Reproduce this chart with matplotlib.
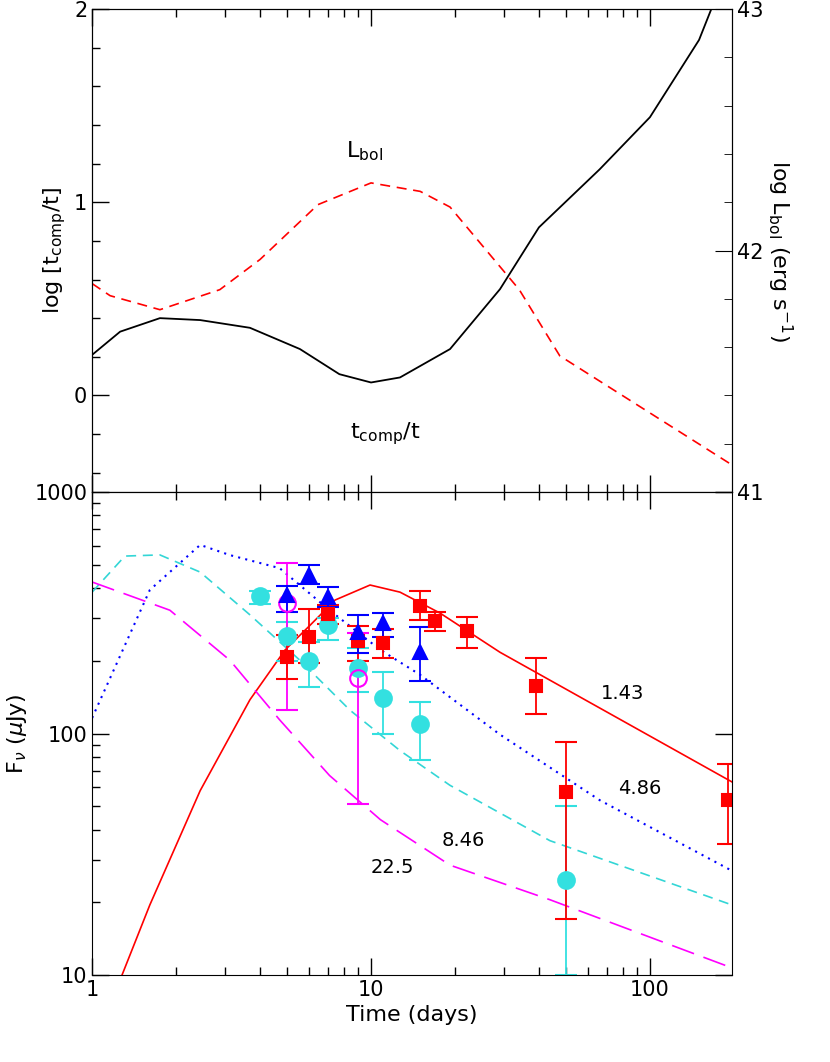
import numpy as np
import matplotlib
matplotlib.use("Agg")
import matplotlib.pyplot as plt
from matplotlib.ticker import MultipleLocator, LogLocator, NullFormatter, FixedLocator, FuncFormatter

# ── Top panel curves ──────────────────────────────────────────────────────────
tc_t = [1.0, 1.26, 1.75, 2.44, 3.68, 5.56, 7.7, 10.0, 12.7, 19.2, 29, 40, 66, 100, 150, 166, 200]
tc_v = [0.21, 0.33, 0.40, 0.39, 0.35, 0.24, 0.11, 0.067, 0.093, 0.24, 0.55, 0.87, 1.17, 1.44, 1.84, 2.0, 2.2]

lb_t = [1.0, 1.16, 1.75, 2.87, 4.0, 6.45, 10.0, 15, 19.2, 34, 47.5, 197]
lb_v = [41.863, 41.813, 41.755, 41.838, 41.963, 42.19, 42.28, 42.245, 42.18, 41.838, 41.564, 41.112]

# ── Bottom panel model curves ────────────────────────────────────────────────
m143_t = [1.28, 1.61, 2.44, 3.68, 4.92, 6.05, 7.43, 9.92, 12.7, 17.7, 29, 197]
m143_f = [10, 19.5, 58, 138, 222, 281, 357, 412, 385, 315, 217, 63]
m486_t = [1.0, 1.61, 2.44, 3.12, 4.7, 7.1, 10.8, 15, 29, 66, 197]
m486_f = [116, 393, 604, 548, 484, 324, 222, 175, 99, 53, 27]
m846_t = [1.0, 1.31, 1.75, 2.44, 3.68, 5.56, 8.4, 12.7, 19.2, 43.8, 197]
m846_f = [385, 543, 549, 466, 310, 201, 125, 85, 61, 36, 19.5]
m225_t = [1.0, 1.9, 3.12, 4.7, 7.1, 10.8, 19.2, 43.8, 197]
m225_f = [424, 324, 201, 114, 67, 44, 28.5, 20.5, 10.7]

# ── Data points (t, flux, lo, hi) ────────────────────────────────────────────
red_t  = [5, 6, 7, 9, 11, 15, 17, 22, 39, 50, 190]
red_f  = [207, 251, 313, 242, 237, 337, 292, 266, 157, 57, 53]
red_lo = [168, 195, 285, 200, 205, 295, 265, 225, 120, 17, 35]
red_hi = [255, 328, 340, 280, 270, 390, 318, 305, 205, 92, 75]

blue_t  = [5, 6, 7, 9, 11, 15]
blue_f  = [375, 453, 367, 263, 287, 217]
blue_lo = [320, 415, 335, 215, 250, 165]
blue_hi = [410, 500, 405, 310, 315, 275]

cyan_t  = [4, 5, 6, 7, 9, 11, 15, 50]
cyan_f  = [371, 253, 200, 281, 187, 140, 110, 24.7]
cyan_lo = [345, 200, 156, 245, 148, 100, 78, 10]
cyan_hi = [390, 290, 240, 300, 225, 180, 135, 50]

mag_t  = [5, 9]
mag_f  = [347, 170]
mag_lo = [125, 51]
mag_hi = [510, 260]

freq_labels = ["1.43", "4.86", "8.46", "22.5"]
freq_lab_t  = [80, 92, 21.5, 11.9]
freq_lab_f  = [146, 59, 36, 28]

fig = plt.figure(figsize=(8.3, 10.62), dpi=100)
L, W, H = 0.111, 0.771, 0.4548
ax1 = fig.add_axes([L, 0.0819 + H, W, H])
ax2 = fig.add_axes([L, 0.0819, W, H])

def style(ax):
    ax.tick_params(which="both", direction="in", top=True, labelsize=15)
    ax.tick_params(which="major", length=12, width=1)
    ax.tick_params(which="minor", length=6, width=1)

# top
ax1.plot(tc_t, tc_v, color="black", lw=1.3)
ax1.set_xscale("log")
ax1.set_xlim(1, 197)
ax1.set_ylim(-0.5, 2)
ax1.yaxis.set_major_locator(MultipleLocator(1))
ax1.yaxis.set_minor_locator(MultipleLocator(0.2))
ax1.xaxis.set_major_formatter(NullFormatter())
ax1.xaxis.set_minor_formatter(NullFormatter())
ax1.set_ylabel("log [t$_{\\rm comp}$/t]", fontsize=16)
style(ax1)
ax1.tick_params(right=False)
ax1r = ax1.twinx()
ax1r.plot(lb_t, lb_v, color="red", lw=1.2, ls=(0, (6, 4)))
ax1r.set_ylim(41, 43)
ax1r.yaxis.set_major_locator(MultipleLocator(1))
ax1r.yaxis.set_minor_locator(MultipleLocator(0.2))
ax1r.tick_params(which="both", direction="in", labelsize=15)
ax1r.tick_params(which="major", length=12)
ax1r.tick_params(which="minor", length=6)
ax1r.set_ylabel("log L$_{\\rm bol}$ (erg s$^{-1}$)", fontsize=16, rotation=270, labelpad=22)
ax1.text(9.5, 1.23, "L$_{\\rm bol}$", fontsize=16, ha="center")
ax1.text(11.2, -0.22, "t$_{\\rm comp}$/t", fontsize=16, ha="center")

# bottom
ax2.plot(m143_t, m143_f, color="red", lw=1.2)
ax2.plot(m486_t, m486_f, color="blue", lw=1.5, ls=(0, (1, 2.5)))
ax2.plot(m846_t, m846_f, color="#33d6d6", lw=1.2, ls=(0, (6, 4)))
ax2.plot(m225_t, m225_f, color="magenta", lw=1.2, ls=(0, (14, 6)))

def ebar(t, f, lo, hi, color, marker, ms, mfc=None):
    f = np.array(f); lo = np.array(lo); hi = np.array(hi)
    ax2.errorbar(t, f, yerr=[f - lo, hi - f], fmt=marker, color=color, ms=ms,
                 mfc=mfc if mfc else color, mec=color, capsize=8, elinewidth=1.3,
                 capthick=1.3, mew=1.5)

ebar(cyan_t, cyan_f, cyan_lo, cyan_hi, "#33e0e0", "o", 12)
ebar(mag_t, mag_f, mag_lo, mag_hi, "magenta", "o", 12, mfc="none")
ebar(red_t, red_f, red_lo, red_hi, "red", "s", 9)
ebar(blue_t, blue_f, blue_lo, blue_hi, "blue", "^", 10)

ax2.set_xscale("log")
ax2.set_yscale("log")
ax2.set_xlim(1, 197)
ax2.set_ylim(10, 1000)
ax2.yaxis.set_major_locator(FixedLocator([10, 100, 1000]))
ax2.yaxis.set_major_formatter(FuncFormatter(lambda v, p: f"{v:g}"))
ax2.yaxis.set_minor_locator(LogLocator(subs=np.arange(2, 10)))
ax2.yaxis.set_minor_formatter(NullFormatter())
ax2.xaxis.set_major_formatter(FuncFormatter(lambda v, p: f"{v:g}"))
ax2.xaxis.set_minor_formatter(NullFormatter())
ax2.set_xlabel("Time (days)", fontsize=16)
ax2.set_ylabel("F$_\\nu$ ($\\mu$Jy)", fontsize=16)
style(ax2)
ax2.tick_params(right=True)

for lab, t, f in zip(freq_labels, freq_lab_t, freq_lab_f):
    ax2.text(t, f, lab, fontsize=14, ha="center", va="center")

fig.savefig("out.png", dpi=100)
